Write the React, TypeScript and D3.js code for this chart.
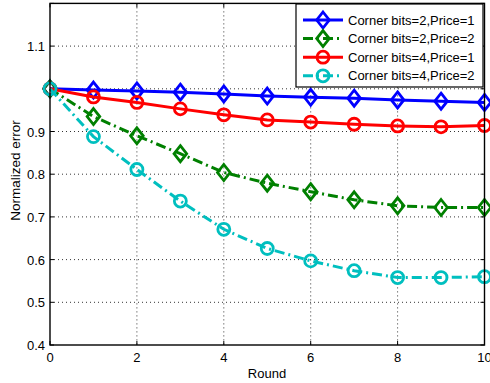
import React from "react";
import * as d3 from "d3";

// values
const rounds = [0, 1, 2, 3, 4, 5, 6, 7, 8, 9, 10];
const bits2price1 = [1.0, 0.997, 0.995, 0.992, 0.988, 0.983, 0.98, 0.978, 0.974, 0.971, 0.968];
const bits2price2 = [1.0, 0.935, 0.89, 0.848, 0.804, 0.779, 0.759, 0.74, 0.726, 0.722, 0.722];
const bits4price1 = [1.0, 0.981, 0.968, 0.953, 0.939, 0.927, 0.922, 0.917, 0.913, 0.911, 0.914];
const bits4price2 = [1.0, 0.888, 0.811, 0.737, 0.671, 0.626, 0.597, 0.574, 0.558, 0.558, 0.56];

const xTicks = [0, 2, 4, 6, 8, 10];
const yTicks = [0.4, 0.5, 0.6, 0.7, 0.8, 0.9, 1.0, 1.1, 1.2];
const yTickLabels = ["0.4", "0.5", "0.6", "0.7", "0.8", "0.9", "", "1.1", ""];

const seriesNames = [
  "Corner bits=2,Price=1",
  "Corner bits=2,Price=2",
  "Corner bits=4,Price=1",
  "Corner bits=4,Price=2",
];

const series = [
  { name: seriesNames[0], values: bits2price1, color: "#0000ff", dash: "none", marker: "diamond" },
  { name: seriesNames[1], values: bits2price2, color: "#008000", dash: "10,4,2,4", marker: "diamond" },
  { name: seriesNames[2], values: bits4price1, color: "#ff0000", dash: "none", marker: "circle" },
  { name: seriesNames[3], values: bits4price2, color: "#00bfbf", dash: "10,4,2,4", marker: "circle" },
];

const W = 490;
const H = 383;
const left = 50, right = 484.5, top = 3.4, bottom = 345;
const font = "'Liberation Sans', Arial, Helvetica, sans-serif";

function Marker({ kind, x, y, color }: { kind: string; x: number; y: number; color: string }) {
  if (kind === "circle") {
    return <circle cx={x} cy={y} r={6} fill="none" stroke={color} strokeWidth={2.8} />;
  }
  const p = `M${x},${y - 8} L${x + 6.3},${y} L${x},${y + 8} L${x - 6.3},${y} Z`;
  return <path d={p} fill="none" stroke={color} strokeWidth={2.8} strokeLinejoin="miter" />;
}

export default function App() {
  const x = d3.scaleLinear().domain([0, 10]).range([left, right]);
  const y = d3.scaleLinear().domain([0.4, 1.2]).range([bottom, top]);

  const line = d3
    .line<number>()
    .x((_, i) => x(rounds[i]))
    .y((d) => y(d));

  // legend layout
  const lgX = 296, lgY = 4, lgW = 187, lgH = 83;
  const rowY = (i: number) => 20 + i * 18.6;

  return (
    <svg
      width={W}
      height={H}
      style={{ position: "absolute", left: 0, top: 0, background: "#fff" }}
      fontFamily={font}
    >
      <rect x={0} y={0} width={W} height={H} fill="#fff" />

      {/* grid */}
      <g stroke="#000" strokeWidth={0.8} strokeDasharray="1,3">
        {xTicks.slice(1, -1).map((t) => (
          <line key={"gx" + t} x1={x(t)} x2={x(t)} y1={top} y2={bottom} />
        ))}
        {yTicks.slice(1, -1).map((t) => (
          <line key={"gy" + t} x1={left} x2={right} y1={y(t)} y2={y(t)} />
        ))}
      </g>

      {/* tick marks on all four sides */}
      <g stroke="#000" strokeWidth={1}>
        {xTicks.map((t) => (
          <g key={"tx" + t}>
            <line x1={x(t)} x2={x(t)} y1={bottom} y2={bottom - 4} />
            <line x1={x(t)} x2={x(t)} y1={top} y2={top + 4} />
          </g>
        ))}
        {yTicks.map((t) => (
          <g key={"ty" + t}>
            <line x1={left} x2={left + 4} y1={y(t)} y2={y(t)} />
            <line x1={right} x2={right - 4} y1={y(t)} y2={y(t)} />
          </g>
        ))}
      </g>

      {/* series */}
      {series.map((s) => (
        <g key={s.name}>
          <path
            d={line(s.values) || ""}
            fill="none"
            stroke={s.color}
            strokeWidth={3}
            strokeDasharray={s.dash}
          />
          {s.values.map((v, i) => (
            <Marker key={i} kind={s.marker} x={x(rounds[i])} y={y(v)} color={s.color} />
          ))}
        </g>
      ))}

      {/* axes box */}
      <rect x={left} y={top} width={right - left} height={bottom - top} fill="none" stroke="#000" strokeWidth={1.4} />

      {/* tick labels */}
      <g fontSize={13} fill="#000">
        {xTicks.map((t) => (
          <text key={"lx" + t} x={x(t)} y={362} textAnchor="middle">
            {t}
          </text>
        ))}
        {yTicks.map((t, i) => (
          <text key={"ly" + t} x={45} y={y(t) + 5} textAnchor="end">
            {yTickLabels[i]}
          </text>
        ))}
      </g>

      {/* axis labels */}
      <text x={267} y={378} textAnchor="middle" fontSize={13}>
        Round
      </text>
      <text
        transform={`translate(20,${(117 + 224) / 2}) rotate(-90)`}
        textAnchor="middle"
        fontSize={13.5}
      >
        Normalized error
      </text>

      {/* legend */}
      <rect x={lgX} y={lgY} width={lgW} height={lgH} fill="#fff" stroke="#000" strokeWidth={1.2} />
      {series.map((s, i) => (
        <g key={"lg" + i}>
          <line
            x1={303}
            x2={343}
            y1={rowY(i)}
            y2={rowY(i)}
            stroke={s.color}
            strokeWidth={3}
            strokeDasharray={s.dash}
          />
          <Marker kind={s.marker} x={323} y={rowY(i)} color={s.color} />
          <text x={348} y={rowY(i) + 4.5} fontSize={13}>
            {s.name}
          </text>
        </g>
      ))}
    </svg>
  );
}
